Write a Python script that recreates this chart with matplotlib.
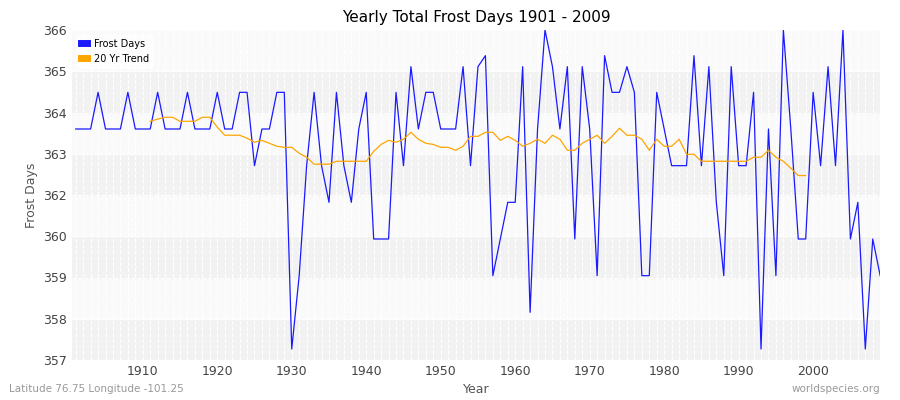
import matplotlib
matplotlib.use("Agg")
import matplotlib.pyplot as plt
import numpy as np

years = list(range(1901, 2010))
frost = [363.3,363.3,363.3,364.3,363.3,363.3,363.3,364.3,363.3,363.3,
         363.3,364.3,363.3,363.3,363.3,364.3,363.3,363.3,363.3,364.3,
         363.3,363.3,364.3,364.3,362.3,363.3,363.3,364.3,364.3,357.3,
         359.3,362.3,364.3,362.3,361.3,364.3,362.3,361.3,363.3,364.3,
         360.3,360.3,360.3,364.3,362.3,365.0,363.3,364.3,364.3,363.3,
         363.3,363.3,365.0,362.3,365.0,365.3,359.3,360.3,361.3,361.3,
         365.0,358.3,363.3,366.0,365.0,363.3,365.0,360.3,365.0,363.3,
         359.3,365.3,364.3,364.3,365.0,364.3,359.3,359.3,364.3,363.3,
         362.3,362.3,362.3,365.3,362.3,365.0,361.3,359.3,365.0,362.3,
         362.3,364.3,357.3,363.3,359.3,366.0,363.3,360.3,360.3,364.3,
         362.3,365.0,362.3,366.0,360.3,361.3,357.3,360.3,359.3]
trend_years = list(range(1911, 2000))
trend = [363.51,363.57,363.62,363.62,363.51,363.51,363.51,363.62,363.62,363.35,
         363.13,363.13,363.13,363.05,362.94,362.99,362.91,362.83,362.80,362.80,
         362.64,362.53,362.34,362.34,362.34,362.42,362.42,362.42,362.42,362.42,
         362.69,362.88,362.99,362.94,363.02,363.21,363.02,362.91,362.88,362.80,
         362.80,362.72,362.83,363.10,363.10,363.21,363.21,362.99,363.10,362.99,
         362.83,362.91,363.02,362.91,363.13,363.02,362.72,362.72,362.91,363.02,
         363.13,362.91,363.10,363.32,363.13,363.13,363.02,362.72,363.02,362.83,
         362.83,363.02,362.61,362.61,362.42,362.42,362.42,362.42,362.42,362.42,
         362.42,362.53,362.53,362.72,362.53,362.42,362.23,362.03,362.03]
ytick_labels = ["357","358","359","360","362","363","364","365","366"]

fig = plt.figure(figsize=(9, 4), dpi=100)
ax = fig.add_axes([0.08, 0.1, 0.898, 0.825])
ax.set_facecolor("#f8f8f8")
yt = np.linspace(357, 366, 9)
for i in range(8):
    ax.axhspan(yt[i], yt[i+1], color="#f2f2f2" if i % 2 == 0 else "#fafafa", zorder=0)
ax.plot(years, frost, color="#1a1aff", lw=0.9, zorder=3, label="Frost Days")
ax.plot(trend_years, trend, color="orange", lw=0.9, zorder=3, label="20 Yr Trend")
ax.set_xlim(1900.5, 2009)
ax.set_ylim(357, 366)
ax.set_yticks(yt)
ax.set_yticklabels(ytick_labels)
ax.set_xticks(range(1910, 2010, 10))
ax.set_xticks(range(1901, 2010), minor=True)
ax.grid(True, which="both", axis="x", color="white", ls="--", lw=0.8, zorder=1)
ax.grid(True, which="major", axis="y", color="white", ls="--", lw=0.8, zorder=1)
for s in ax.spines.values():
    s.set_visible(False)
ax.tick_params(which="both", length=0, labelsize=9, colors="#444444")
ax.set_title("Yearly Total Frost Days 1901 - 2009", fontsize=11)
ax.set_xlabel("Year", fontsize=9, color="#555555")
ax.set_ylabel("Frost Days", fontsize=9, color="#555555")
leg = ax.legend(loc="upper left", fontsize=7, frameon=True, handlelength=0.6,
                handleheight=0.6, markerscale=1)
leg.get_frame().set_facecolor("white"); leg.get_frame().set_edgecolor("white")
for h in leg.legend_handles:
    h.set_linewidth(5)
fig.text(0.01, 0.02, "Latitude 76.75 Longitude -101.25", fontsize=7.5, color="#999999")
fig.text(0.978, 0.02, "worldspecies.org", fontsize=7.5, color="#999999", ha="right")
fig.savefig("out.png")
